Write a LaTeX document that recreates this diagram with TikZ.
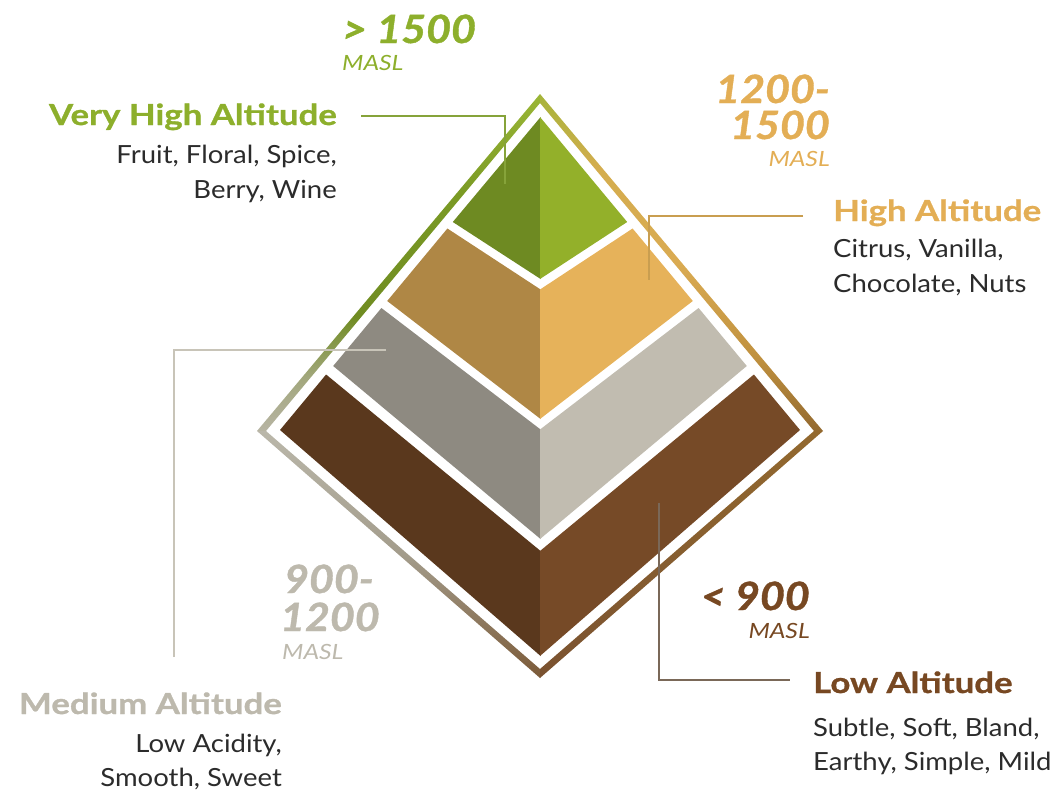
\documentclass[tikz,border=0pt]{standalone}
\usepackage{fontspec}
\setmainfont{Lato}
\newfontfamily\bodyfont[FakeStretch=1.1]{Lato}
\newfontfamily\figfont[FakeStretch=1.1, BoldItalicFeatures={FakeBold=1}]{Lato}
\newfontfamily\headfont[FakeStretch=1.2, BoldFeatures={FakeBold=1}]{Lato}
\newfontfamily\unitfont[FakeStretch=1.18]{Lato}
\definecolor{greenD}{HTML}{6E8A22}
\definecolor{greenL}{HTML}{93B02A}
\definecolor{tanD}{HTML}{AF8745}
\definecolor{tanL}{HTML}{E6B25A}
\definecolor{grayD}{HTML}{8E8A81}
\definecolor{grayL}{HTML}{C1BCB0}
\definecolor{brownD}{HTML}{5A381D}
\definecolor{brownL}{HTML}{764A27}
\definecolor{txtGreen}{HTML}{8DAF2C}
\definecolor{txtGold}{HTML}{E3AE55}
\definecolor{txtGray}{HTML}{BDB9AD}
\definecolor{txtBrown}{HTML}{774822}
\definecolor{bodyc}{HTML}{2B2B2B}
\definecolor{leadGreen}{HTML}{86A33A}
\definecolor{leadGold}{HTML}{C99E50}
\definecolor{leadGray}{HTML}{C8C4B8}
\definecolor{leadBrown}{HTML}{7A6858}
% frame colours
\definecolor{fA}{HTML}{B7B4A3}
\definecolor{fB}{HTML}{A2A77C}
\definecolor{fC}{HTML}{708C22}
\definecolor{fD}{HTML}{7A9A24}
\definecolor{fE}{HTML}{9AB636}
\definecolor{fF}{HTML}{7B5A38}
\definecolor{fG}{HTML}{A39C8B}
\definecolor{fH}{HTML}{BAB7AA}
\definecolor{fI}{HTML}{93692F}
\definecolor{fJ}{HTML}{C0913F}
\definecolor{fK}{HTML}{DAAB52}
\definecolor{fL}{HTML}{D4AD4E}
\definecolor{fM}{HTML}{A6B43A}
\definecolor{fN}{HTML}{7A5230}
% frame shadings, one per edge of the outer diamond
\pgfdeclareverticalshading{edgeTL}{100bp}{%
  color(0bp)=(fA); color(25bp)=(fA); color(33bp)=(fB);
  color(42bp)=(fC); color(60bp)=(fD); color(75bp)=(fE);
  color(100bp)=(fE)}
\pgfdeclareverticalshading{edgeLB}{100bp}{%
  color(0bp)=(fF); color(25bp)=(fF); color(50bp)=(fG);
  color(75bp)=(fH); color(100bp)=(fH)}
\pgfdeclareverticalshading{edgeTR}{100bp}{%
  color(0bp)=(fI); color(25bp)=(fI); color(36bp)=(fJ);
  color(50bp)=(fK); color(64bp)=(fL); color(75bp)=(fM);
  color(100bp)=(fM)}
\pgfdeclareverticalshading{edgeRB}{100bp}{%
  color(0bp)=(fN); color(25bp)=(fN); color(75bp)=(fI);
  color(100bp)=(fI)}
\begin{document}
\begin{tikzpicture}[x=1pt,y=-1pt,
  heading/.style={font=\headfont\bfseries\fontsize{29}{31}\selectfont, inner sep=0pt},
  body/.style={font=\bodyfont\fontsize{25}{27}\selectfont, text=bodyc, inner sep=0pt},
  figure/.style={font=\figfont\bfseries\itshape\fontsize{39}{41}\selectfont, inner sep=0pt},
  unit/.style={font=\unitfont\itshape\fontsize{21}{23}\selectfont, inner sep=0pt},
  leader/.style={line width=2pt},
]
\useasboundingbox (0,0) rectangle (1058,793);

% outer diamond frame
\coordinate (oT) at (540,94);  \coordinate (oL) at (257,431);
\coordinate (oR) at (823,431); \coordinate (oB) at (540,678);
\coordinate (iT) at (540,103); \coordinate (iL) at (266,431);
\coordinate (iR) at (814,431); \coordinate (iB) at (540,669);
\shade[shading=edgeTL] (oT) -- (oL) -- (iL) -- (iT) -- cycle;
\shade[shading=edgeLB] (oL) -- (oB) -- (iB) -- (iL) -- cycle;
\shade[shading=edgeTR] (oT) -- (oR) -- (iR) -- (iT) -- cycle;
\shade[shading=edgeRB] (oR) -- (oB) -- (iB) -- (iR) -- cycle;

% layer 1: very high altitude
\fill[greenD] (540.6,117) -- (452.8,222) -- (540.6,279) -- cycle;
\fill[greenL] (540,117) -- (627.2,222) -- (540,279) -- cycle;
% layer 2: high altitude
\fill[tanD] (447.4,228.5) -- (387.2,301) -- (540.6,419) -- (540.6,289.5) -- cycle;
\fill[tanL] (632.6,228.5) -- (692.8,301) -- (540,419) -- (540,289.5) -- cycle;
% layer 3: medium altitude
\fill[grayD] (381.4,308) -- (333.2,366) -- (540.6,539) -- (540.6,429.5) -- cycle;
\fill[grayL] (698.6,308) -- (746.8,366) -- (540,539) -- (540,429.5) -- cycle;
% layer 4: low altitude
\fill[brownD] (326.1,374.5) -- (280,430) -- (540.6,656) -- (540.6,551) -- cycle;
\fill[brownL] (753.9,374.5) -- (800,430) -- (540,656) -- (540,551) -- cycle;

% free ends of the leader lines
\coordinate (vhEnd) at (505,184);  \coordinate (vhStart) at (361,116);
\coordinate (hEnd) at (649,280);   \coordinate (hStart) at (803,216);
\coordinate (mEnd) at (386,350);   \coordinate (mStart) at (174,657);
\coordinate (lEnd) at (659,503);   \coordinate (lStart) at (790,680);

% very high altitude
\node[figure, text=txtGreen, anchor=base west] (vhNum) at (342,43) {> 1500};
\node[unit, text=txtGreen, anchor=base west] (vhUnit) at (342,70) {MASL};
\node[heading, text=txtGreen, anchor=base east] (vhHead) at (337,125) {Very High Altitude};
\node[body, anchor=base east] (vhB1) at (337,163) {Fruit, Floral, Spice,};
\node[body, anchor=base east] (vhB2) at (337,198) {Berry, Wine};
\draw[leader, leadGreen] (vhStart) -- (vhEnd |- vhStart) -- (vhEnd);

% high altitude
\node[figure, text=txtGold, anchor=base east] (hNum1) at (830,103) {1200-};
\node[figure, text=txtGold, anchor=base east] (hNum2) at (830,139) {1500};
\node[unit, text=txtGold, anchor=base east] (hUnit) at (830,166) {MASL};
\node[heading, text=txtGold, anchor=base west] (hHead) at (833,221) {High Altitude};
\node[body, anchor=base west] (hB1) at (833,257) {Citrus, Vanilla,};
\node[body, anchor=base west] (hB2) at (833,292) {Chocolate, Nuts};
\draw[leader, leadGold] (hStart) -- (hEnd |- hStart) -- (hEnd);

% medium altitude
\node[figure, text=txtGray, anchor=base west] (mNum1) at (284,593) {900-};
\node[figure, text=txtGray, anchor=base west] (mNum2) at (280,631) {1200};
\node[unit, text=txtGray, anchor=base west] (mUnit) at (282,659) {MASL};
\node[heading, text=txtGray, anchor=base east] (mHead) at (282,714) {Medium Altitude};
\node[body, anchor=base east] (mB1) at (282,752) {Low Acidity,};
\node[body, anchor=base east] (mB2) at (282,786) {Smooth, Sweet};
\draw[leader, leadGray] (mStart) -- (mStart |- mEnd) -- (mEnd);

% low altitude
\node[figure, text=txtBrown, anchor=base east] (lNum) at (810,610) {< 900};
\node[unit, text=txtBrown, anchor=base east] (lUnit) at (810,638) {MASL};
\node[heading, text=txtBrown, anchor=base west] (lHead) at (813,693) {Low Altitude};
\node[body, anchor=base west] (lB1) at (813,736) {Subtle, Soft, Bland,};
\node[body, anchor=base west] (lB2) at (813,770) {Earthy, Simple, Mild};
\draw[leader, leadBrown] (lEnd) -- (lEnd |- lStart) -- (lStart);
\end{tikzpicture}
\end{document}
